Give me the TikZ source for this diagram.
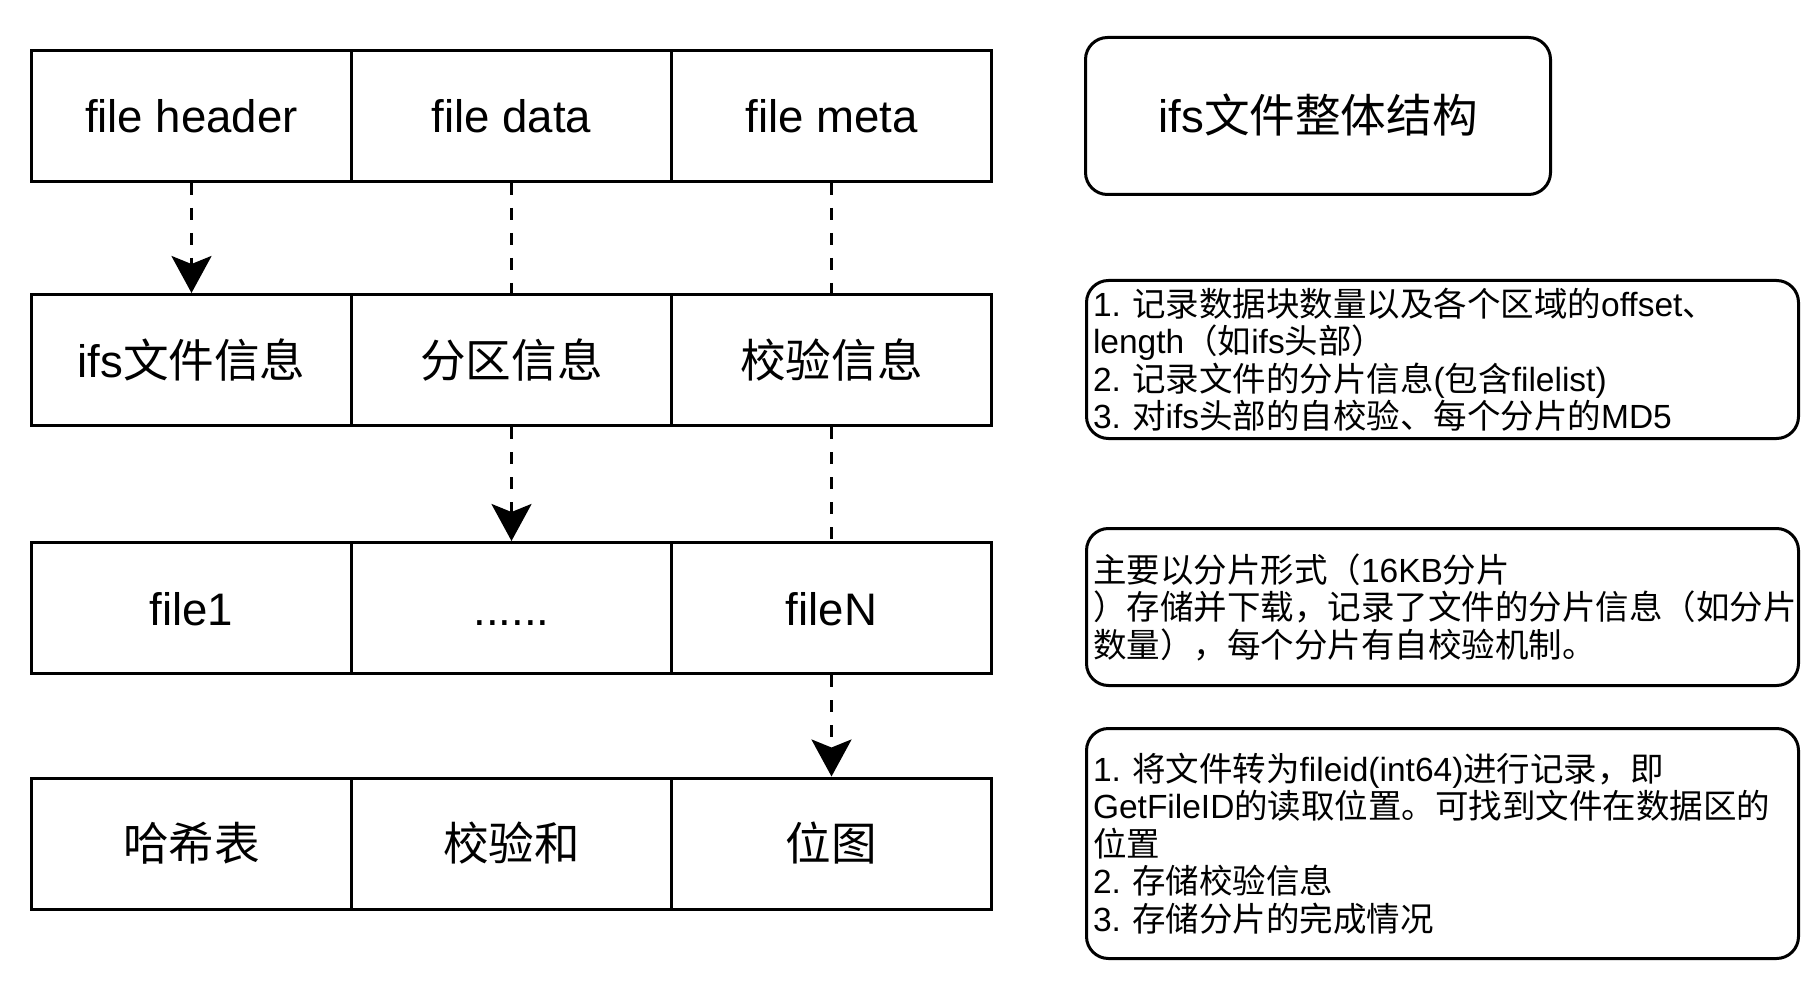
\documentclass[tikz,border=0pt]{standalone}
\usepackage{fontspec}
\setmainfont{Liberation Sans}
\newfontfamily\zhfont{Noto Sans CJK SC}
\newcommand\zh[1]{{\zhfont #1}}
\usetikzlibrary{arrows.meta}
\frenchspacing

\begin{document}
\begin{tikzpicture}[x=0.5pt,y=-0.5pt]
\tikzset{cell/.style = {shape=rectangle,draw,line width=1.5pt,minimum width=160pt,minimum height=65.5pt,inner sep=0pt,font=\fontsize{22.8}{27}\selectfont,text height=17pt,text depth=0pt}}
\tikzset{title/.style = {shape=rectangle,draw,line width=1.5pt,rounded corners=11pt,minimum width=232.5pt,minimum height=78.5pt,inner sep=0pt,font=\fontsize{22.8}{27}\selectfont,text height=17pt,text depth=0pt}}
\tikzset{note/.style = {shape=rectangle,draw,line width=1.5pt,rounded corners=11pt,inner xsep=3.25pt,inner ysep=0pt,text width=349.5pt,align=left,font=\fontsize{16.75}{18.75}\selectfont}}
\tikzset{dashedge/.style = {line width=1.5pt,dash pattern=on 6pt off 6.5pt}}
\tikzset{dasharrow/.style = {dashedge,-{Stealth[length=18.5pt,width=20pt,inset=4pt]}}}

\useasboundingbox (0,0) rectangle (1818,994);

\node[cell] (hdr) at (191.5,116) {file header};
\node[cell] (data) at (511.5,116) {file data};
\node[cell] (meta) at (831.5,116) {file meta};

\node[cell] (info) at (191.5,360) {ifs\zh{文件信息}};
\node[cell] (part) at (511.5,360) {\zh{分区信息}};
\node[cell] (check) at (831.5,360) {\zh{校验信息}};

\node[cell] (f1) at (191.5,608) {file1};
\node[cell] (dots) at (511.5,608) {......};
\node[cell] (fN) at (831.5,608) {fileN};

\node[cell] (hash) at (191.5,843.5) {\zh{哈希表}};
\node[cell] (sum) at (511.5,843.5) {\zh{校验和}};
\node[cell] (bmap) at (831.5,843.5) {\zh{位图}};

\node[title] (head) at (1318,116) {ifs\zh{文件整体结构}};

\node[note,minimum height=79pt] (n1) at (1442.5,359.5) {1. \zh{记录数据块数量以及各个区域的}offset\zh{、}\\
length\zh{（如}ifs\zh{头部）}\\
2. \zh{记录文件的分片信息}(\zh{包含}filelist)\\
3. \zh{对}ifs\zh{头部的自校验、每个分片的}MD5};
\node[note,minimum height=78.5pt] (n2) at (1442.5,607) {\zh{主要以分片形式（}16KB\zh{分片}\\
\zh{）存储并下载，记录了文件的分片信息（如分片}\\
\zh{数量），每个分片有自校验机制。}};
\node[note,minimum height=115pt] (n3) at (1442.5,843.5) {1. \zh{将文件转为}fileid(int64)\zh{进行记录，即}\\
GetFileID\zh{的读取位置。可找到文件在数据区的}\\
\zh{位置}\\
2. \zh{存储校验信息}\\
3. \zh{存储分片的完成情况}};

\draw[dasharrow] (hdr) to (info);
\draw[dashedge] (data) to (part);
\draw[dashedge] (meta) to (check);
\draw[dasharrow] (part) to (dots);
\draw[dashedge] (check) to (fN);
\draw[dasharrow] (fN) to (bmap);
\end{tikzpicture}
\end{document}
